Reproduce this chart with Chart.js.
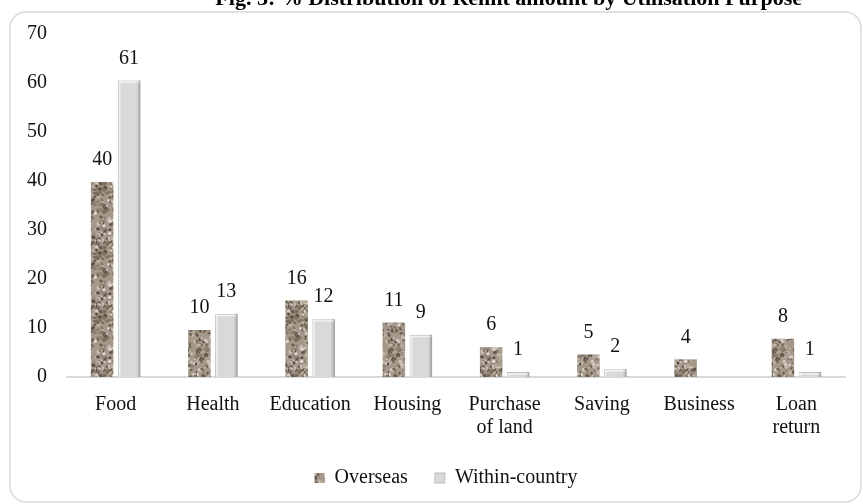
<!DOCTYPE html>
<html><head><meta charset="utf-8">
<script src="https://cdn.jsdelivr.net/npm/chart.js@4.4.1/dist/chart.umd.min.js"></script>
<style>html,body{margin:0;padding:0;background:#fff;}#wrap{position:relative;width:863px;height:504px;}</style>
</head><body><div id="wrap"><canvas id="c" width="863" height="504"></canvas></div>
<script>
const titleText = 'Fig. 3: % Distribution of Remit amount by Utilisation Purpose';
const categories = ['Food', 'Health', 'Education', 'Housing', ['Purchase', 'of land'], 'Saving', 'Business', ['Loan', 'return']];
const overseas = [39.8, 9.6, 15.6, 11.1, 6.1, 4.6, 3.6, 7.8];
const withinCountry = [60.5, 12.9, 11.8, 8.6, 1.0, 1.6, null, 1.0];
const yTicks = [0, 10, 20, 30, 40, 50, 60, 70];
const seriesNames = ['Overseas', 'Within-country'];

const FONT = '"Liberation Serif", "Times New Roman", serif';
const TEXT = '#111';

// fine grainy texture for the "Overseas" bars (deterministic speckles)
function makeTexture() {
  const s = 64;
  const cv = document.createElement('canvas');
  cv.width = s; cv.height = s;
  const g = cv.getContext('2d');
  g.fillStyle = '#a5988a';
  g.fillRect(0, 0, s, s);
  const h = n => { const v = Math.sin(n * 12.9898 + 78.233) * 43758.5453; return v - Math.floor(v); };
  const cols = ['#5e5246', '#7a6d60', '#908375', '#c6bcb0', '#d8d0c6', '#b5a99b', '#6c5f52'];
  for (let i = 0; i < 420; i++) {
    const x = h(i) * s, y = h(i + 500) * s;
    const rw = 0.6 + h(i + 900) * 1.8, rh = 0.6 + h(i + 1300) * 1.8;
    g.fillStyle = cols[Math.floor(h(i + 1700) * cols.length)];
    for (const dx of [-s, 0, s]) for (const dy of [-s, 0, s]) {
      g.beginPath();
      g.ellipse(x + dx, y + dy, rw, rh, h(i + 2100) * Math.PI, 0, Math.PI * 2);
      g.fill();
    }
  }
  return cv;
}
const ctx0 = document.getElementById('c').getContext('2d');
const texture = ctx0.createPattern(makeTexture(), 'repeat');

const framePlugin = {
  id: 'frame',
  beforeDraw(chart) {
    const c = chart.ctx;
    c.save();
    c.fillStyle = '#fff';
    c.fillRect(0, 0, chart.width, chart.height);
    c.strokeStyle = '#d9d9d9';
    c.lineWidth = 1.5;
    c.beginPath();
    c.roundRect(10, 12, 851, 490, 16);
    c.stroke();
    c.fillStyle = '#000';
    c.font = 'bold 22px ' + FONT;
    c.textAlign = 'right';
    c.textBaseline = 'alphabetic';
    c.fillText(titleText, 802, 5);
    c.restore();
  }
};

// shift the legend so that it is centred like the reference
const legendShift = {
  id: 'legendShift',
  afterLayout(chart) {
    const lg = chart.legend;
    if (!lg) return;
    lg.left += 13.5; lg.right += 13.5;
    if (lg.legendHitBoxes) lg.legendHitBoxes.forEach(b => { b.left += 13.5; });
  }
};

const bevelPlugin = {
  id: 'bevel',
  afterDatasetsDraw(chart) {
    const c = chart.ctx;
    const meta = chart.getDatasetMeta(1);
    c.save();
    meta.data.forEach((el, i) => {
      if (withinCountry[i] == null) return;
      const {x, y, base, width} = el.getProps(['x', 'y', 'base', 'width'], true);
      const l = x - width / 2, r = x + width / 2;
      const gr = c.createLinearGradient(r - 4, 0, r, 0);
      gr.addColorStop(0, 'rgba(160,160,160,0)');
      gr.addColorStop(1, 'rgba(150,150,150,0.9)');
      c.fillStyle = gr;
      c.fillRect(r - 4, y, 4, base - y);
      c.fillStyle = 'rgba(255,255,255,0.6)';
      c.fillRect(l + 1, y + 1, 1.5, base - y - 1);
      c.fillRect(l + 1, y + 1, width - 2, 1.5);
    });
    c.restore();
  }
};

const labelPlugin = {
  id: 'vals',
  afterDatasetsDraw(chart) {
    const c = chart.ctx;
    c.save();
    c.font = '20px ' + FONT;
    c.fillStyle = TEXT;
    c.textAlign = 'center';
    c.textBaseline = 'middle';
    chart.data.datasets.forEach((ds, di) => {
      chart.getDatasetMeta(di).data.forEach((el, i) => {
        const v = ds.data[i];
        if (v == null) return;
        const {x, y} = el.getProps(['x', 'y'], true);
        c.fillText(String(Math.round(v)), x, y - 22);
      });
    });
    c.restore();
  }
};

new Chart(document.getElementById('c'), {
  type: 'bar',
  data: {
    labels: categories,
    datasets: [
      { label: seriesNames[0], data: overseas, backgroundColor: texture, borderWidth: 0,
        categoryPercentage: 0.555, barPercentage: 0.833 },
      { label: seriesNames[1], data: withinCountry, backgroundColor: '#d9d9d9', borderColor: '#bdbdbd', borderWidth: 1,
        categoryPercentage: 0.555, barPercentage: 0.833 }
    ]
  },
  options: {
    responsive: false,
    animation: false,
    devicePixelRatio: 1,
    layout: { padding: { left: 20, right: 18, top: 34, bottom: 6 } },
    plugins: {
      title: { display: false },
      tooltip: { enabled: false },
      legend: {
        position: 'bottom',
        labels: {
          font: { family: FONT, size: 20 },
          color: TEXT,
          boxWidth: 10, boxHeight: 10,
          padding: 27
        }
      }
    },
    scales: {
      x: {
        grid: { display: false, drawTicks: false },
        border: { display: true, color: '#d9d9d9', width: 2 },
        ticks: { font: { family: FONT, size: 20, lineHeight: 1.15 }, color: TEXT, padding: 16.5, maxRotation: 0, autoSkip: false },
        afterFit(s) { s.height = 64; }
      },
      y: {
        min: 0, max: 70,
        afterBuildTicks(s) { s.ticks = yTicks.map(v => ({ value: v })); },
        grid: { display: false, drawTicks: false },
        border: { display: false },
        ticks: { font: { family: FONT, size: 20 }, color: TEXT, padding: 20 },
        afterFit(s) { s.width = 47; }
      }
    }
  },
  plugins: [framePlugin, legendShift, bevelPlugin, labelPlugin]
});
</script></body></html>
